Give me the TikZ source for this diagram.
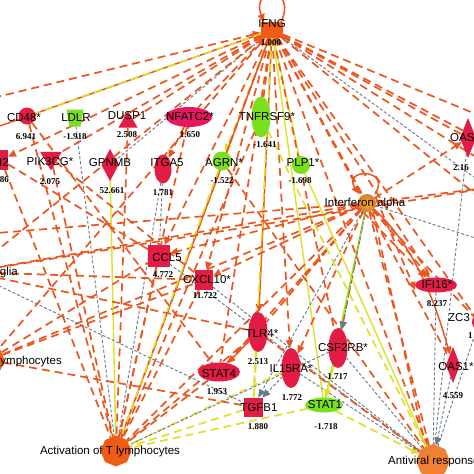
\documentclass[tikz,border=0pt]{standalone}
\usepackage{fontspec}
\setmainfont{Liberation Sans}
\newfontfamily\valfont{Liberation Serif}
\usetikzlibrary{arrows.meta,shapes.geometric,backgrounds}
\definecolor{orgE}{RGB}{236,86,30}
\definecolor{yelE}{RGB}{224,224,40}
\definecolor{gryE}{RGB}{105,120,135}
\definecolor{nRed}{RGB}{226,28,68}
\definecolor{nGreen}{RGB}{122,224,30}
\definecolor{fOrange}{RGB}{238,92,22}
\definecolor{fOrange2}{RGB}{240,128,50}
\definecolor{ifnaCol}{RGB}{214,120,70}
\tikzset{
 ind/.style={draw=orgE, line width=1.7pt, dash pattern=on 8pt off 5pt},
 dir/.style={draw=orgE, line width=1.5pt},
 yind/.style={draw=yelE, line width=1.7pt, dash pattern=on 8pt off 5pt},
 ydir/.style={draw=yelE, line width=1.4pt},
 gind/.style={draw=gryE, line width=0.9pt, dash pattern=on 3pt off 2pt},
 tip/.style={-{Triangle[length=8pt,width=7pt]}},
 rtip/.style={{Triangle[length=8pt,width=7pt]}-},
 shp/.style={draw=none, inner sep=0pt, outer sep=0pt},
 redf/.style={shp, fill=nRed},
 grnf/.style={shp, fill=nGreen},
 vell/.style={ellipse, minimum width=19pt, minimum height=40pt},
 hell/.style={ellipse, minimum width=42pt, minimum height=18pt},
 sqr/.style={rectangle, minimum width=20pt, minimum height=20pt},
 dia/.style={diamond, minimum width=16pt, minimum height=34pt},
 octo/.style={regular polygon, regular polygon sides=8, shape border rotate=22.5, minimum size=31pt},
 lbl/.style={font=\fontsize{11.5}{12}\selectfont, inner sep=0pt},
 val/.style={font=\valfont\bfseries\fontsize{9}{10}\selectfont, inner sep=0pt},
}
\begin{document}
\begin{tikzpicture}[x=1pt,y=-1pt]
\useasboundingbox (0,0) rectangle (474,474);
% ---------- nodes (shapes) ----------
\node[shp, fill=fOrange, rectangle, minimum width=22pt, minimum height=16pt] (ifng) at (272,30) {};
\node[shp, circle, minimum size=18pt, inner color=orange!60!yellow, outer color=ifnaCol] (ifna) at (367,203) {};
\node[shp, fill=fOrange, octo] (actT) at (116,451) {};
\node[shp, fill=fOrange2, octo, minimum size=34pt] (antiv) at (433,461) {};
\node[shp, fill=fOrange, octo] (lymph) at (-11,360) {};
\node[shp, circle, minimum size=4pt] (glia) at (-30,272) {};
\node[redf, circle, minimum size=17pt] (cd48) at (27,116) {};
\node[shp, rectangle, minimum width=17pt, minimum height=17pt] (ldlr) at (75,118) {};
\fill[nGreen] (ldlr.north west) -- (ldlr.north east) -- ([xshift=-3pt]ldlr.south east) -- ([xshift=3pt]ldlr.south west) -- cycle;
\node[redf, regular polygon, regular polygon sides=3, minimum size=22pt] (dusp1) at (128,122) {};
\node[redf, hell, minimum width=46pt, minimum height=20pt, fill=nRed!85!magenta] (nfatc2) at (189,117) {};
\node[grnf, vell, minimum width=19pt, minimum height=41pt] (tnfrsf9) at (261,117) {};
\node[redf, dia, minimum width=16pt, minimum height=40pt] (oas) at (468,138) {};
\node[redf, rectangle, minimum width=14pt, minimum height=20pt] (itwo) at (1,160) {};
\node[redf, regular polygon, regular polygon sides=3, shape border rotate=180, minimum size=25pt] (pik3cg) at (51,158) {};
\node[redf, dia, minimum width=17pt, minimum height=32pt] (gpnmb) at (110,165) {};
\node[redf, vell, minimum width=17pt, minimum height=29pt] (itga5) at (163,169) {};
\node[grnf, circle, minimum size=19pt] (agrn) at (222,161) {};
\node[grnf, circle, minimum size=18pt] (plp1) at (301,165) {};
\node[redf, sqr, minimum size=22pt] (ccl5) at (159,256) {};
\node[redf, sqr, minimum width=18pt, minimum height=20pt] (cxcl10) at (204,280) {};
\node[redf, hell, minimum width=42pt, minimum height=15pt] (ifi16) at (436,285) {};
\node[redf, ellipse, minimum width=14pt, minimum height=16pt] (zc3) at (479,322) {};
\node[redf, dia, minimum width=14pt, minimum height=36pt] (oas1) at (453,365) {};
\node[redf, vell] (tlr4) at (258,332) {};
\node[redf, hell, minimum width=42pt, minimum height=19pt] (stat4) at (219,372) {};
\node[redf, vell] (il15ra) at (291,368) {};
\node[redf, vell] (csf2rb) at (338,348) {};
\node[redf, sqr, minimum size=19pt] (tgfb1) at (253,407) {};
\node[grnf, hell, minimum width=38pt, minimum height=15pt] (stat1) at (324,405) {};
% off-canvas ends
\coordinate (offL1) at (-40,106);
\coordinate (offL2) at (-40,140);
\coordinate (offL3) at (-40,236);
\coordinate (offR1) at (500,124);
\coordinate (offR2) at (500,150);
\coordinate (offR3) at (500,172);
\coordinate (offRg) at (500,196);
\coordinate (offR5) at (500,186);
\coordinate (offR6) at (500,214);
\coordinate (offRg2) at (500,246);
% ---------- edges ----------
\begin{scope}[on background layer]
\fill[white] (0,0) rectangle (474,474);
% IFNG hub
\draw[ind,rtip] (ifng) -- (offL1);
\draw[dir,rtip] (ifng) -- (offL2);
\draw[yind] (ifng) -- (cd48);
\draw[ind,tip] (ifng) -- (itwo);
\draw[ind] (ifng) -- (pik3cg);
\draw[gind] (ifng) -- (gpnmb);
\draw[ind] (ifng) -- (dusp1);
\draw[ind] (ifng) -- (nfatc2);
\draw[ind,tip] (nfatc2) -- (itga5);
\draw[yind,tip] (ifng) -- (agrn);
\draw[ind] (ifng) -- (tnfrsf9);
\draw[ydir] (ifng) -- (plp1);
\draw[ind,tip] (ifng) -- (ccl5);
\draw[ind,tip] (ifng) -- (cxcl10);
\draw[dir,tip] (ifng) -- (tlr4);
\draw[ind] (ifng) -- (stat4);
\draw[ind,tip] (ifng) -- (il15ra);
\draw[ind] (ifng) -- (csf2rb);
\draw[ydir] (ifng) -- (stat1);
\draw[yind] (ifng) -- (tgfb1);
\draw[ind] (ifng) -- (ifna);
\draw[ind] (ifng) -- (ifi16);
\draw[ind] (ifng) -- (oas1);
\draw[ind] (ifng) -- (zc3);
\draw[ind] (ifng) -- (oas);
\draw[ind] (ifng) -- (offR1);
\draw[ind] (ifng) -- (offR2);
\draw[ind] (ifng) -- (offR3);
\draw[ind] (ifng) -- (offR6);
\draw[gind] (ifng) -- (offRg);
\draw[ind,tip] (ifng) -- (actT);
\draw[dir] (ifng) -- (actT);
\draw[ind,tip] (ifng) -- (antiv);
\draw[ind,rtip] (ifng) -- (lymph);
\draw[ind] (ifng) -- (glia);
\draw[dir,tip] ([xshift=9pt]ifng.north) .. controls (298,-14) and (250,-14) .. ([xshift=-8pt]ifng.north);
% Interferon alpha hub
\draw[ind,tip] (ifna) -- (ifi16);
\draw[ind,tip] ([yshift=5pt]ifna.east) -- ([yshift=-5pt]ifi16.west);
\draw[ind,tip] ([xshift=-4pt]ifna.south) -- ([xshift=-10pt]ifi16.north);
\draw[dir,tip] (ifna) .. controls (420,250) and (440,320) .. (oas1);
\draw[ind] (ifna) -- (zc3);
\draw[ind,tip] (ifna) -- (oas);
\draw[ind,tip] (ifna) -- (csf2rb);
\draw[ydir, draw=yelE!70!green] (ifna) -- (stat1);
\draw[ind,tip] (ifna) -- (cxcl10);
\draw[ind,tip] (ifna) -- (ccl5);
\draw[ind] (ifna) -- (tlr4);
\draw[ind,tip] (ifna) -- (il15ra);
\draw[ind] (ifna) -- (stat4);
\draw[ind] (ifna) -- (glia);
\draw[ind] (ifna) -- (lymph);
\draw[ind] (ifna) -- (offL3);
\draw[ind] (ifna) -- (actT);
\draw[ind] (ifna) -- (antiv);
\draw[ind] ([xshift=6pt]ifna.south) -- ([xshift=-8pt]antiv.north);
\draw[ind] (ifna) -- (offR5);
\draw[gind] (ifna) -- (offRg2);
\draw[gind,tip] (ifna) -- (tgfb1);
\draw[gind,tip] (ifna) -- (csf2rb);
\draw[dir,tip] ([xshift=8pt]ifna.north) .. controls (392,168) and (342,168) .. ([xshift=-8pt]ifna.north);
% Activation of T lymphocytes
\draw[ind] (cd48) -- (actT);
\draw[ind] (itwo) -- (actT);
\draw[ind] (pik3cg) -- (actT);
\draw[ydir] (gpnmb) -- (actT);
\draw[gind] (ldlr) -- (actT);
\draw[gind] (itga5) -- (actT);
\draw[gind] (itga5) -- (ccl5);
\draw[ind] (ccl5) -- (actT);
\draw[ind] (cxcl10) -- (actT);
\draw[ind] (tnfrsf9) -- (actT);
\draw[ind] (nfatc2) -- (actT);
\draw[yind] (agrn) -- (actT);
\draw[ind] (stat4) -- (actT);
\draw[ind] (tlr4) -- (actT);
\draw[yind] (il15ra) -- (actT);
\draw[yind] (tgfb1) -- (actT);
\draw[yind] (stat1) -- (actT);
\draw[gind] (csf2rb) -- (actT);
\draw[ind] (dusp1) -- (actT);
% Antiviral response
\draw[gind] (ccl5) -- (antiv);
\draw[gind] (cxcl10) -- (antiv);
\draw[gind] (csf2rb) -- (antiv);
\draw[yind,tip] (stat1) -- (antiv);
\draw[gind] (il15ra) -- (antiv);
\draw[gind,tip] (oas1) -- (antiv);
\draw[gind] (zc3) -- (antiv);
\draw[gind] (ifi16) -- (antiv);
\draw[gind] (oas) -- (antiv);
\draw[ydir] (plp1) -- (antiv);
\draw[yind] (tnfrsf9) -- (antiv);
\draw[ind] (tlr4) -- (antiv);
\draw[ind] (agrn) -- (antiv);
% other
\draw[dir,tip] (tlr4) -- (stat4);
\draw[yind] (tlr4) -- (tgfb1);
\draw[gind,tip] (il15ra) -- (tgfb1);
\draw[ydir,tip] (csf2rb) -- (stat1);
\draw[ind] (lymph) -- (tgfb1);
\draw[ind] (lymph) -- (ccl5);
\draw[ind] (lymph) -- (cxcl10);
\draw[ind] (glia) -- (cxcl10);
\draw[ind] (glia) -- (tlr4);
\draw[ind] (glia) -- (offR5);
\draw[gind] (glia) -- (tgfb1);
\draw[ind] (pik3cg) -- (cxcl10);
\draw[ind] (itwo) -- (ccl5);
\draw[ind] (cd48) -- (stat4);
\end{scope}
% ---------- labels ----------
\node[lbl] at (272,24) {IFNG};
\node[val] at (271,43) {1.000};
\node[lbl] at (365,204) {Interferon alpha};
\node[lbl] at (110,452) {Activation of T lymphocytes};
\node[lbl, anchor=west] at (388,462) {Antiviral response};
\node[lbl, anchor=east] at (62,362) {lymphocytes};
\node[lbl, anchor=east] at (18,273) {glia};
\node[lbl] at (24,118) {CD48*};
\node[val] at (26,137) {6.941};
\node[lbl] at (76,118) {LDLR};
\node[val] at (75,137) {-1.918};
\node[lbl] at (127,116) {DUSP1};
\node[val] at (127,135) {2.508};
\node[lbl] at (190,117) {NFATC2*};
\node[val] at (190,135) {1.650};
\node[lbl] at (267,117) {TNFRSF9*};
\node[val] at (265,145) {-1.641};
\node[lbl, anchor=west] at (450,138) {OAS};
\node[val, anchor=west] at (453,168) {2.16};
\node[lbl, anchor=east] at (9,162) {I2};
\node[val, anchor=east] at (9,180) {86};
\node[lbl] at (50,162) {PIK3CG*};
\node[val] at (50,182) {2.075};
\node[lbl] at (110,163) {GPNMB};
\node[val] at (112,191) {52.661};
\node[lbl] at (167,163) {ITGA5};
\node[val] at (163,193) {1.781};
\node[lbl] at (224,163) {AGRN*};
\node[val] at (222,181) {-1.522};
\node[lbl] at (303,163) {PLP1*};
\node[val] at (300,181) {-1.698};
\node[lbl] at (167,258) {CCL5};
\node[val] at (163,275) {4.772};
\node[lbl] at (207,280) {CXCL10*};
\node[val] at (205,296) {11.722};
\node[lbl] at (437,285) {IFI16*};
\node[val] at (437,304) {8.237};
\node[lbl, anchor=west] at (448,318) {ZC3};
\node[val, anchor=west] at (468,336) {1};
\node[lbl] at (456,367) {OAS1*};
\node[val] at (453,396) {4.559};
\node[lbl] at (262,334) {TLR4*};
\node[val] at (258,362) {2.513};
\node[lbl] at (219,374) {STAT4};
\node[val] at (217,392) {1.953};
\node[lbl] at (291,369) {IL15RA*};
\node[val] at (292,398) {1.772};
\node[lbl] at (343,348) {CSF2RB*};
\node[val] at (336,377) {-1.717};
\node[lbl] at (259,408) {TGFB1};
\node[val] at (258,427) {1.880};
\node[lbl] at (325,405) {STAT1};
\node[val] at (326,427) {-1.718};
\end{tikzpicture}
\end{document}
